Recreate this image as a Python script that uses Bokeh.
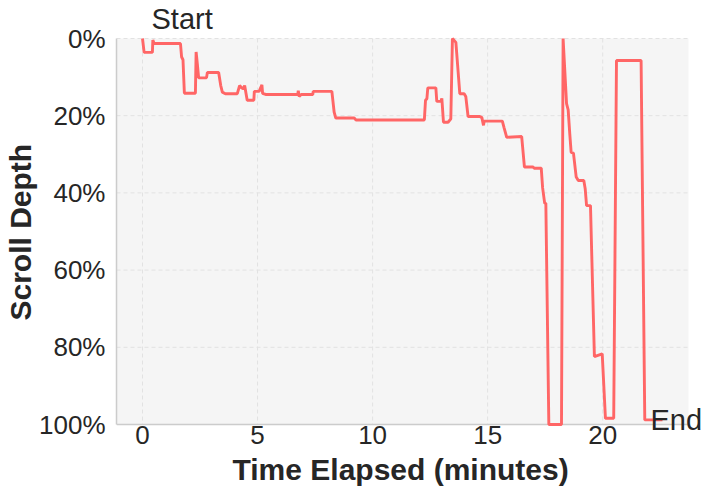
from bokeh.plotting import figure
from bokeh.models import Range1d, Label, Title, FixedTicker, CustomJSTickFormatter
from bokeh.embed import file_html
from bokeh.resources import INLINE

# elapsed time (minutes)
minutes = [0.00, 0.07, 0.43, 0.45, 0.50, 1.65, 1.70, 1.76, 1.82, 2.30, 2.33, 2.39, 2.44, 2.78,
           2.82, 3.31, 3.40, 3.47, 3.60, 4.12, 4.22, 4.32, 4.38, 4.44, 4.55, 4.84, 4.86, 5.07,
           5.19, 5.22, 5.35, 6.75, 6.77, 6.81, 6.90, 7.40, 7.42, 8.23, 8.33, 8.40, 9.20, 9.28,
           12.25, 12.30, 12.36, 12.40, 12.75, 12.79, 12.97, 13.01, 13.08, 13.28, 13.40, 13.47,
           13.62, 13.79, 13.98, 14.05, 14.15, 14.66, 14.75, 14.82, 14.85, 15.64, 15.71, 15.83,
           16.48, 16.60, 16.98, 17.02, 17.33, 17.39, 17.48, 17.53, 17.66, 18.21, 18.28, 18.43,
           18.50, 18.57, 18.63, 18.73, 18.85, 18.94, 19.18, 19.24, 19.30, 19.47, 19.64, 19.98,
           20.12, 20.48, 20.60, 21.67, 21.83, 22.60]
# scroll depth (percent of page)
depth = [0.0, 3.6, 3.6, 0.4, 1.3, 1.3, 4.8, 5.5, 14.2, 14.2, 3.5, 7.0, 10.2, 10.2,
         8.8, 8.8, 12.2, 13.9, 14.3, 14.3, 12.2, 12.8, 13.0, 12.2, 16.0, 16.0, 13.7, 13.7,
         12.0, 14.2, 14.5, 14.5, 13.5, 15.0, 14.5, 14.5, 13.7, 13.7, 19.1, 20.6, 20.6, 21.1,
         21.1, 16.0, 15.6, 12.8, 12.8, 16.3, 16.3, 15.5, 21.7, 21.7, 20.8, 0.0,
         1.0, 14.3, 14.3, 15.0, 20.2, 20.2, 20.5, 22.5, 21.4, 21.4, 23.0, 25.6,
         25.4, 33.3, 33.3, 33.6, 33.6, 38.7, 42.7, 42.7, 100.0, 100.0, 0.0, 16.9,
         18.5, 24.7, 29.5, 29.7, 35.9, 36.8, 36.8, 38.9, 43.3, 43.3, 82.4, 81.7,
         98.4, 98.4, 5.7, 5.7, 98.8, 98.8]

x_ticks = [0, 5, 10, 15, 20]
y_ticks = [0, 20, 40, 60, 80, 100]

FONT = "Liberation Sans"
TXT = "#262626"

# plot-area limits (the grey panel); the canvas frame is a little larger so
# the Start / End annotations are not clipped.
X_LO, X_HI = -1.13, 23.73
Y_LO, Y_HI = 0.0, 100.0

W, H = 712, 496
BL, BR, BT, BB = 116, 0, 0, 62
PANEL_W = 572          # grey panel width in px
PANEL_H = 386          # grey panel height in px
PANEL_TOP = 38         # grey panel top, px below frame top
frame_w = W - BL - BR
frame_h = H - BT - BB
x_end = X_LO + (X_HI - X_LO) * frame_w / PANEL_W
y_top = Y_LO - (Y_HI - Y_LO) * PANEL_TOP / PANEL_H
y_bot = Y_HI + (Y_HI - Y_LO) * (frame_h - PANEL_TOP - PANEL_H) / PANEL_H

p = figure(width=W, height=H, output_backend="svg", toolbar_location=None,
           x_range=Range1d(X_LO, x_end), y_range=Range1d(y_bot, y_top),
           min_border_left=BL, min_border_right=BR, min_border_top=BT, min_border_bottom=BB)

p.background_fill_color = "white"
p.border_fill_color = "white"
p.outline_line_color = None
p.xgrid.visible = False
p.ygrid.visible = False

# grey panel
p.quad(left=X_LO, right=X_HI, bottom=Y_HI, top=Y_LO, fill_color="#f5f5f5", line_color=None)
# grid lines
p.segment(x0=x_ticks, x1=x_ticks, y0=[Y_LO] * len(x_ticks), y1=[Y_HI] * len(x_ticks),
          line_color="#e2e2e2", line_width=1, line_dash="4 3")
p.segment(x0=[X_LO] * len(y_ticks), x1=[X_HI] * len(y_ticks), y0=y_ticks, y1=y_ticks,
          line_color="#e2e2e2", line_width=1, line_dash="4 3")
# bottom spine of the panel
p.segment(x0=[X_LO], x1=[X_HI], y0=[Y_HI], y1=[Y_HI], line_color="#cccccc", line_width=1.5)

p.line(minutes, depth, line_color="#ff6666", line_width=2.9)

for ax in (p.xaxis, p.yaxis):
    ax.major_tick_line_color = None
    ax.minor_tick_line_color = None
    ax.major_label_text_font = FONT
    ax.major_label_text_font_size = "26px"
    ax.major_label_text_color = TXT

p.xaxis.axis_line_color = None
p.yaxis.axis_line_color = "#cccccc"
p.yaxis.axis_line_width = 1.5
p.yaxis.bounds = (Y_LO, Y_HI)
p.xaxis.ticker = FixedTicker(ticks=x_ticks)
p.yaxis.ticker = FixedTicker(ticks=y_ticks)
p.yaxis.formatter = CustomJSTickFormatter(code="return tick.toFixed(0) + '%';")
p.xaxis.major_label_standoff = -15
p.yaxis.major_label_standoff = 5

xt = Title(text="Time Elapsed (minutes)", align="left", offset=116, standoff=9,
           text_font=FONT, text_font_size="30px", text_font_style="bold", text_color=TXT)
yt = Title(text="Scroll Depth", align="left", offset=114, standoff=0,
           text_font=FONT, text_font_size="30px", text_font_style="bold", text_color=TXT)
p.add_layout(xt, "below")
p.add_layout(yt, "left")

start = Label(x=minutes[0], y=depth[0], x_offset=9, y_offset=20, text="Start",
              text_font=FONT, text_font_size="29px", text_color=TXT,
              text_baseline="middle", text_align="left")
end = Label(x=minutes[-1], y=depth[-1], x_offset=-12, y_offset=0, text="End",
            text_font=FONT, text_font_size="29px", text_color=TXT,
            text_baseline="middle", text_align="left")
p.add_layout(start)
p.add_layout(end)

open("out.html", "w").write(file_html(p, INLINE))
